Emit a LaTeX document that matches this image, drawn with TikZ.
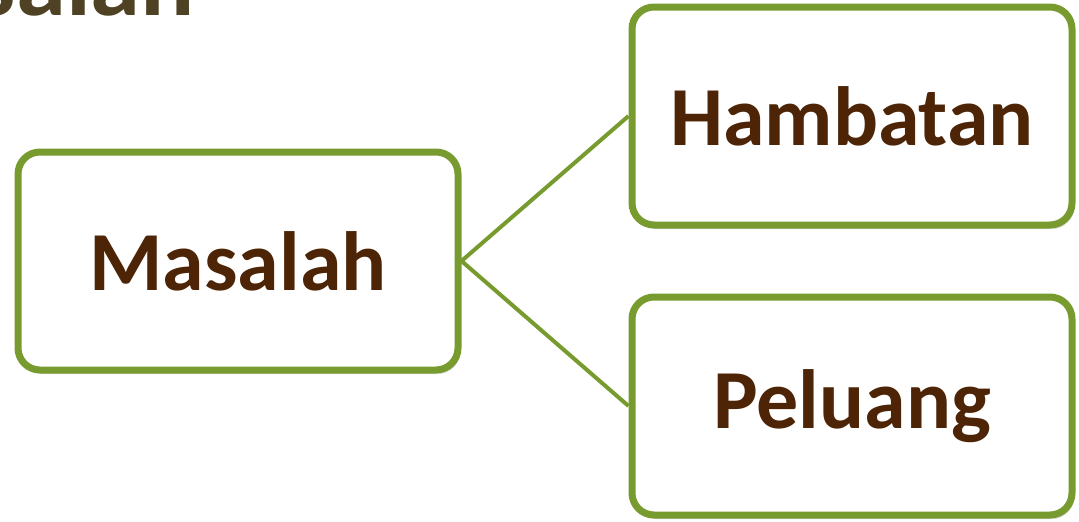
\documentclass[tikz,border=0pt]{standalone}
\usepackage{fontspec}
\setmainfont{Carlito}
\usetikzlibrary{shadows}
\definecolor{boxgreen}{RGB}{120,155,48}
\definecolor{textbrown}{RGB}{77,37,6}
\definecolor{titlebrown}{RGB}{79,66,36}
\tikzset{
  topicbox/.style={draw=boxgreen, line width=7pt, rounded corners=22pt, fill=white,
    minimum width=440pt, minimum height=218pt, inner sep=0pt,
    font=\fontsize{84}{90}\selectfont\bfseries, text=textbrown,
    drop shadow={shadow xshift=2pt, shadow yshift=-4pt, opacity=0.25, fill=black!60}},
  link/.style={draw=boxgreen, line width=4pt}
}
\begin{document}
\begin{tikzpicture}[x=1pt,y=-1pt]
\useasboundingbox (0,0) rectangle (1079,522);
\clip (0,0) rectangle (1079,522);
\fill[white] (0,0) rectangle (1079,522);
\node[anchor=base east, inner sep=0pt, text=titlebrown, font=\fontsize{101}{110}\selectfont\bfseries] (title) at (195,15) {Masalah};
\node[topicbox] (masalah) at (238,261) {Masalah};
\node[topicbox] (hambatan) at (852,116) {Hambatan};
\node[topicbox] (peluang) at (852,406) {Peluang};
\draw[link] (masalah.east) -- (hambatan.west);
\draw[link] (masalah.east) -- (peluang.west);
\end{tikzpicture}
\end{document}
